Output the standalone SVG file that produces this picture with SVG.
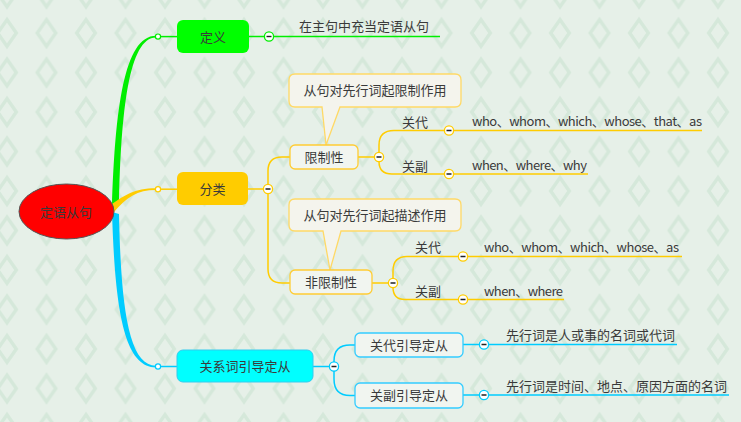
<svg xmlns="http://www.w3.org/2000/svg" width="741" height="422" viewBox="0 0 741 422">
<defs>
<pattern id="bg" x="-12.75" y="-26.25" width="39.5" height="39.5" patternUnits="userSpaceOnUse">
<path d="M19.75,6.5 L29,19.75 L19.75,33 L10.5,19.75 Z" fill="none" stroke="#d5e8da" stroke-width="3.5"/>
</pattern>
<style>
text{font-family:"Noto Sans CJK SC","Liberation Sans",sans-serif;font-size:13px;fill:#3a3a3a}
.c{text-anchor:middle}
.g{stroke:#00ee00;fill:none;stroke-width:1.5}
.y{stroke:#ffcc00;fill:none;stroke-width:1.5}
.b{stroke:#00ccff;fill:none;stroke-width:1.5}
.tg{fill:#fff;stroke-width:1.3}
.tg.gs{stroke:#00ee00}.tg.ys{stroke:#ffcc00}.tg.bs{stroke:#00ccff}
.mn{stroke:#222;stroke-width:1.4}
.dot{fill:#fff;stroke-width:1.2}
.sub{fill:#f1f5f0;stroke-width:1.3}
.call{fill:#f4f4ed;stroke:#ffd966;stroke-width:1.3}
</style>
</defs>
<rect width="741" height="422" fill="#e6f0e8"/>
<rect width="741" height="422" fill="url(#bg)"/>

<g id="connectors">
<path d="M112,208 C115,110 124,35.8 156,35.8 L156,37.4 C129,37.4 121,110 119,206 Z" fill="#00ee00"/>
<path d="M112,204 C124,196 134,188.3 156,188.3 L156,189.9 C137,189.9 127,197 114,212 Z" fill="#ffcc00"/>
<path d="M112,212 C115,310 124,367.4 156,367.4 L156,365.7 C129,365.7 121,310 119,214 Z" fill="#00ccff"/>
<circle class="dot" cx="158" cy="36.6" r="2.6" stroke="#00ee00"/>
<circle class="dot" cx="158" cy="189.2" r="2.6" stroke="#ffcc00"/>
<circle class="dot" cx="158" cy="366.5" r="2.6" stroke="#00ccff"/>
<path class="g" d="M160.6,36.6 H177"/>
<path class="y" d="M160.6,189.2 H177"/>
<path class="b" d="M160.6,366.5 H177"/>

<path class="g" d="M249,36.5 H440"/>

<path class="y" d="M248,189 H264"/>
<path class="y" d="M268,184.5 V171 Q268,157 282,157 H290"/>
<path class="y" d="M268,193.5 V269 Q268,283 282,283 H290"/>
<path class="y" d="M358,157 H375"/>
<path class="y" d="M379,152.5 V145 Q379,130.5 394,130.5 H702"/>
<path class="y" d="M379,161.5 Q379,174 392,174 H588"/>
<path class="y" d="M372,283 H389"/>
<path class="y" d="M393,278.5 V271 Q393,256.5 407,256.5 H682"/>
<path class="y" d="M393,287.5 Q393,299.5 405,299.5 H564"/>

<path class="b" d="M313,366.5 H330"/>
<path class="b" d="M334,362 V361 Q334,345 350,345 H355"/>
<path class="b" d="M334,371 V379 Q334,395.5 350,395.5 H355"/>
<path class="b" d="M463,344.5 H677"/>
<path class="b" d="M463,395 H729"/>

<g class="tg gs"><circle cx="269" cy="36.5" r="4.6"/></g>
<path class="mn" d="M266.5,36.5 H271.5"/>
<g class="tg ys"><circle cx="268" cy="189" r="4.6"/><circle cx="379" cy="157" r="4.6"/><circle cx="449" cy="130.5" r="4.6"/><circle cx="449" cy="174" r="4.6"/><circle cx="393" cy="283" r="4.6"/><circle cx="463" cy="256.5" r="4.6"/><circle cx="463" cy="299.5" r="4.6"/></g>
<path class="mn" d="M265.5,189 H270.5 M376.5,157 H381.5 M446.5,130.5 H451.5 M446.5,174 H451.5 M390.5,283 H395.5 M460.5,256.5 H465.5 M460.5,299.5 H465.5"/>
<g class="tg bs"><circle cx="334" cy="366.5" r="4.6"/><circle cx="484" cy="344.5" r="4.6"/><circle cx="484" cy="395" r="4.6"/></g>
<path class="mn" d="M331.5,366.5 H336.5 M481.5,344.5 H486.5 M481.5,395 H486.5"/>
</g>

<g id="root">
<ellipse cx="66.5" cy="211.5" rx="47.5" ry="27.5" fill="#ff0000" stroke="#555" stroke-width="1"/>
<text class="c" x="66" y="216.5">定语从句</text>
</g>

<g id="n-def">
<rect x="177" y="20" width="72" height="33" rx="6" fill="#00ff00"/>
<text class="c" x="213" y="41.5">定义</text>
</g>
<g id="n-def-1"><text x="299" y="30.5">在主句中充当定语从句</text></g>

<g id="n-class">
<rect x="177" y="172" width="71" height="33" rx="6" fill="#ffcc00"/>
<text class="c" x="212.5" y="193.5">分类</text>
</g>

<g id="n-rel">
<rect x="177" y="350" width="136" height="32" rx="6" fill="#00ffff" stroke="#33ccee" stroke-width="1"/>
<text class="c" x="245" y="370.5">关系词引导定从</text>
</g>

<g id="callout-1">
<path class="call" d="M295,74 H455 Q461,74 461,80 V101 Q461,107 455,107 H340 L326,145 L322,107 H295 Q289,107 289,101 V80 Q289,74 295,74 Z"/>
<text class="c" x="375" y="94.5">从句对先行词起限制作用</text>
</g>
<g id="n-restrictive">
<rect class="sub" x="290" y="145" width="68" height="24" rx="5" stroke="#ffcc33"/>
<text class="c" x="324" y="161.5">限制性</text>
</g>
<g id="n-r-pron"><text x="402" y="126.5">关代</text><text x="472" y="126" textLength="230" lengthAdjust="spacing">who、whom、which、whose、that、as</text></g>
<g id="n-r-adv"><text x="402" y="170.5">关副</text><text x="472" y="169.5" textLength="115" lengthAdjust="spacing">when、where、why</text></g>

<g id="callout-2">
<path class="call" d="M295,199 H455 Q461,199 461,205 V225 Q461,231 455,231 H341 L330,270 L323,231 H295 Q289,231 289,225 V205 Q289,199 295,199 Z"/>
<text class="c" x="375" y="219.5">从句对先行词起描述作用</text>
</g>
<g id="n-nonrestrictive">
<rect class="sub" x="290" y="270" width="82" height="24" rx="5" stroke="#ffcc33"/>
<text class="c" x="331" y="286.5">非限制性</text>
</g>
<g id="n-n-pron"><text x="415" y="251.5">关代</text><text x="484" y="251.5" textLength="195" lengthAdjust="spacing">who、whom、which、whose、as</text></g>
<g id="n-n-adv"><text x="415" y="295.5">关副</text><text x="484" y="295.5" textLength="79" lengthAdjust="spacing">when、where</text></g>

<g id="n-pron-lead">
<rect class="sub" x="355" y="333" width="108" height="24" rx="5" stroke="#33ccff"/>
<text class="c" x="409" y="349.5">关代引导定从</text>
</g>
<g id="n-pron-lead-1"><text x="506" y="339.5">先行词是人或事的名词或代词</text></g>
<g id="n-adv-lead">
<rect class="sub" x="355" y="383" width="108" height="25" rx="5" stroke="#33ccff"/>
<text class="c" x="409" y="400">关副引导定从</text>
</g>
<g id="n-adv-lead-1"><text x="506" y="390.5">先行词是时间、地点、原因方面的名词</text></g>
</svg>
